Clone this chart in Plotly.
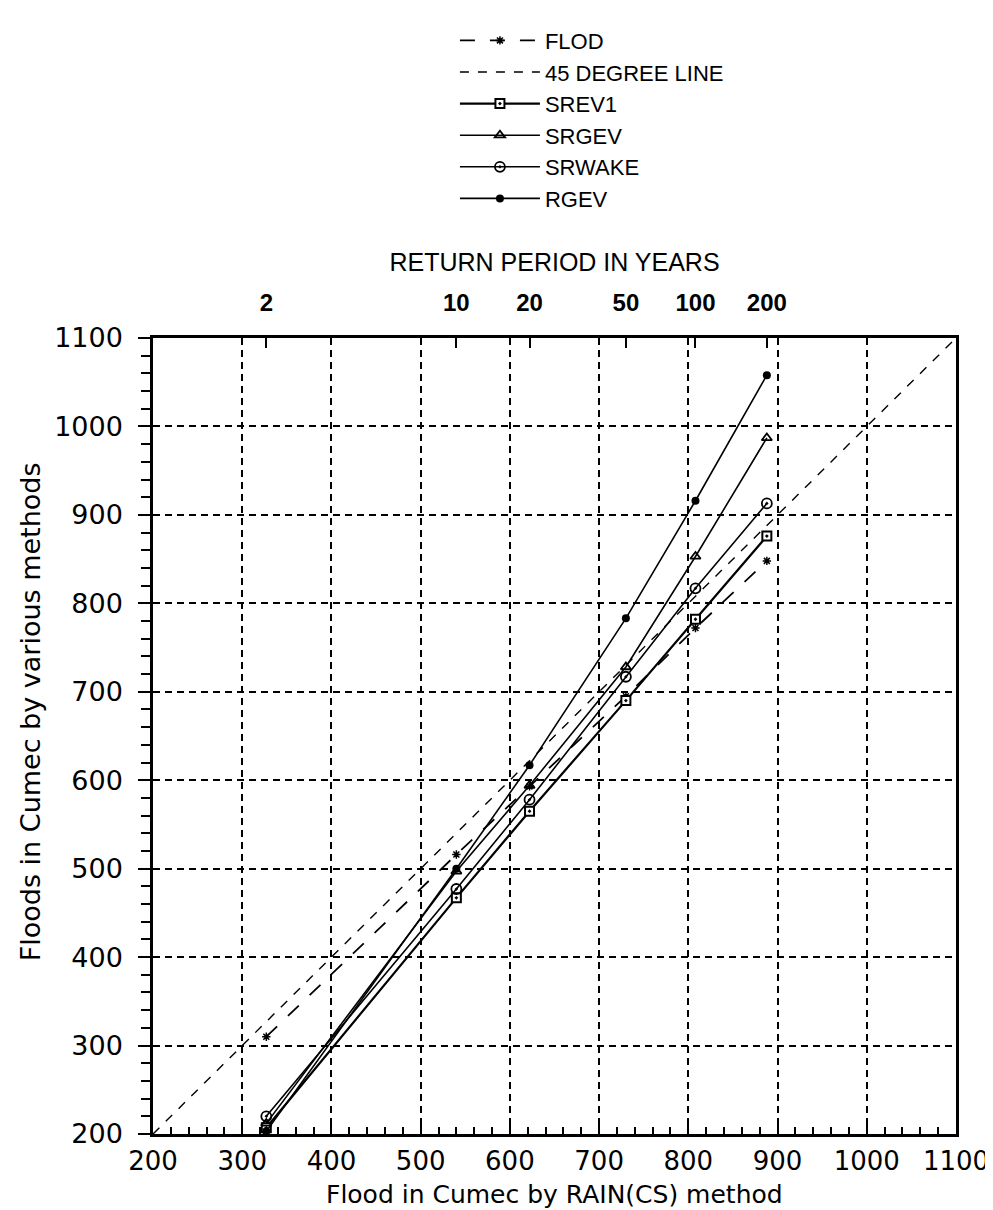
import plotly.graph_objects as go

# Flood by RAIN(CS) method (x) for each return period
rain_cs = [327, 540, 622, 730, 808, 888]
return_period_labels = ["2", "10", "20", "50", "100", "200"]

flod = [310, 516, 593, 695, 772, 848]
srev1 = [207, 467, 565, 690, 782, 876]
srgev = [212, 497, 594, 728, 853, 987]
srwake = [220, 477, 578, 717, 817, 913]
rgev = [203, 500, 617, 783, 916, 1058]

diag_ends = [200, 1100]

axis_ticks = [200, 300, 400, 500, 600, 700, 800, 900, 1000, 1100]

FONT = "DejaVu Sans"
NARROW = "Liberation Sans Narrow, Liberation Sans, Arial Narrow"

fig = go.Figure()

fig.add_trace(go.Scatter(
    x=rain_cs, y=flod, name="FLOD", mode="lines+markers",
    line=dict(color="black", width=1.8, dash="longdash"),
    marker=dict(symbol="asterisk-open", size=7, color="black", line=dict(width=1.5, color="black"))))
fig.add_trace(go.Scatter(
    x=diag_ends, y=diag_ends, name="45 DEGREE LINE", mode="lines",
    line=dict(color="black", width=1.4, dash="dash")))
fig.add_trace(go.Scatter(
    x=rain_cs, y=srev1, name="SREV1", mode="lines+markers",
    line=dict(color="black", width=2.2),
    marker=dict(symbol="square-dot", size=9, color="white", line=dict(width=2, color="black"))))
fig.add_trace(go.Scatter(
    x=rain_cs, y=srgev, name="SRGEV", mode="lines+markers",
    line=dict(color="black", width=1.6),
    marker=dict(symbol="triangle-up-open", size=9, color="black", line=dict(width=1.8, color="black"))))
fig.add_trace(go.Scatter(
    x=rain_cs, y=srwake, name="SRWAKE", mode="lines+markers",
    line=dict(color="black", width=1.6),
    marker=dict(symbol="circle-open-dot", size=10, color="black", line=dict(width=1.8, color="black"))))
fig.add_trace(go.Scatter(
    x=rain_cs, y=rgev, name="RGEV", mode="lines+markers",
    line=dict(color="black", width=1.6),
    marker=dict(symbol="circle", size=8, color="black")))

# invisible trace to carry the top return-period axis
fig.add_trace(go.Scatter(
    x=rain_cs, y=flod, xaxis="x2", mode="markers", showlegend=False,
    hoverinfo="skip", marker=dict(opacity=0)))

fig.update_layout(
    width=993, height=1210,
    paper_bgcolor="white", plot_bgcolor="white",
    margin=dict(l=145, r=43, t=317, b=84),
    font=dict(family=FONT, color="black", size=24),
    showlegend=True,
    legend=dict(
        x=0.376, y=1.40, xanchor="left", yanchor="top",
        font=dict(family=NARROW, size=22, color="black"),
        bgcolor="rgba(0,0,0,0)", itemwidth=80, tracegroupgap=0),
    xaxis=dict(
        range=[200, 1100], tickvals=axis_ticks, ticks="inside", ticklen=12, tickwidth=2,
        tickcolor="black",
        minor=dict(dtick=20, ticks="inside", ticklen=7, tickwidth=1.5, tickcolor="black", showgrid=False),
        showline=True, linecolor="black", linewidth=2.5, mirror=False,
        showgrid=True, gridcolor="black", gridwidth=2, griddash="7px,5px",
        zeroline=False, ticklabelstandoff=2,
        tickfont=dict(family=FONT, size=26)),
    yaxis=dict(
        range=[200, 1100], tickvals=axis_ticks, ticks="outside", ticklen=12, tickwidth=2,
        tickcolor="black",
        minor=dict(dtick=20, ticks="outside", ticklen=9, tickwidth=1.5, tickcolor="black", showgrid=False),
        showline=True, linecolor="black", linewidth=2.5, mirror=True,
        showgrid=True, gridcolor="black", gridwidth=2, griddash="7px,5px",
        zeroline=False, ticklabelstandoff=10,
        tickfont=dict(family=FONT, size=27)),
    xaxis2=dict(
        overlaying="x", side="top", range=[200, 1100],
        tickvals=rain_cs, ticktext=return_period_labels,
        ticks="inside", ticklen=10, tickwidth=2, tickcolor="black",
        showline=True, linecolor="black", linewidth=2.5,
        showgrid=False, zeroline=False, ticklabelstandoff=15,
        tickfont=dict(family=NARROW, size=24, weight=700),
        title=dict(text="RETURN PERIOD IN YEARS", font=dict(family=NARROW, size=25), standoff=10)),
    annotations=[
        dict(text="Flood in Cumec by RAIN(CS) method", xref="paper", yref="paper",
             x=0.5, y=-0.076, xanchor="center", yanchor="middle", showarrow=False,
             font=dict(family=FONT, size=25, color="black")),
        dict(text="Floods in Cumec by various methods", xref="paper", yref="paper",
             x=-0.153, y=0.53, xanchor="center", yanchor="middle", showarrow=False,
             textangle=-90, font=dict(family=FONT, size=27, color="black")),
    ],
)

fig.write_html("out.html")
